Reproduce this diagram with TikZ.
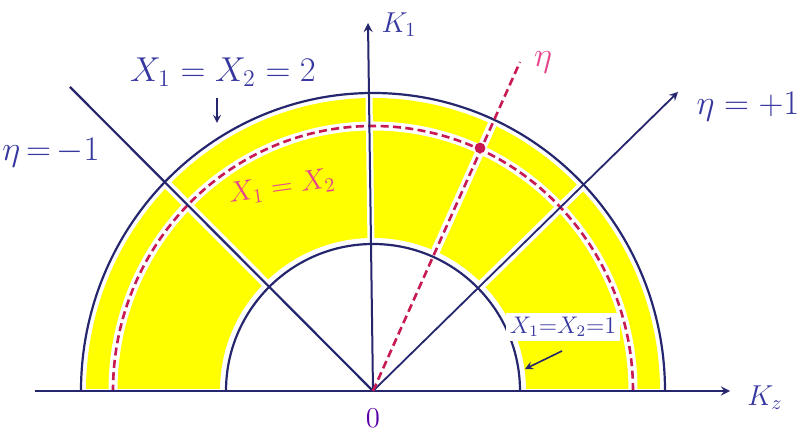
\documentclass[tikz,border=0pt]{standalone}
\usepackage{amsmath}
\definecolor{azulLinha}{RGB}{38,38,110}
\definecolor{azulTexto}{RGB}{55,55,160}
\definecolor{vermelho}{RGB}{200,25,80}
\definecolor{rosa}{RGB}{232,70,140}
\definecolor{amarelo}{RGB}{255,255,0}
\begin{document}
\begin{tikzpicture}[
    x=0.5pt,
    y=0.5pt,
    every node/.style={font=\Large, text=azulTexto},
    linha/.style={draw=azulLinha, line width=1.1pt},
    seta/.style={->, >=stealth, draw=azulLinha, line width=1.0pt},
    tracejado/.style={draw=vermelho, line width=1.3pt, dash pattern=on 4pt off 2.2pt},
    faixa/.style={draw=white, line width=4.5pt},
    ponto/.style={circle, fill=vermelho, inner sep=1.9pt},
    rotulo/.style={text=azulTexto, inner sep=1pt},
    rotuloRosa/.style={text=rosa, inner sep=1pt}
]

% Moldura:
% mesma proporção da figura de referência, origem no ponto O.
\useasboundingbox (-373,-51) rectangle (428,391);

\coordinate (O) at (0,0);
\coordinate (eixoZ) at (357,0);
\coordinate (eixoZini) at (-338,0);
\coordinate (eixoUm) at (-5,368);
\coordinate (etaMenos) at (-303,304);
\coordinate (etaMais) at (305,299);
\coordinate (etaLivre) at (147,329);

% Região amarela:
% coroa entre as duas semicircunferências, acima do eixo horizontal.
\begin{scope}
    \clip (-300,2) rectangle (300,310);
    \fill[amarelo, even odd rule] (0,0) ellipse [x radius=287, y radius=293]
        (0,0) circle [radius=150];
\end{scope}

% Faixas brancas:
% falhas da pintura ao longo das linhas que cortam a coroa.
\draw[faixa] (260,0) arc [start angle=0, end angle=180, x radius=260, y radius=265];
\draw[faixa] (O) -- (etaLivre);
\draw[faixa] (O) -- (etaMais);
\draw[faixa] (O) -- (etaMenos);
\draw[faixa, line width=3.5pt] (O) -- (eixoUm);
\draw[faixa, line width=3pt] (150,0) arc [start angle=0, end angle=180, radius=150];

% Semicircunferências:
% externa (x1 = x2 = 2), interna (x1 = x2 = 1) e tracejada (x1 = x2).
\draw[linha] (292,0) arc [start angle=0, end angle=180, x radius=292, y radius=298];
\draw[linha] (147,0) arc [start angle=0, end angle=180, radius=147];
\draw[tracejado] (260,0) arc [start angle=0, end angle=180, x radius=260, y radius=265];

% Eixos:
\draw[seta] (eixoZini) -- (eixoZ);
\draw[seta] (O) -- (eixoUm);

% Retas de eta constante:
\draw[linha] (O) -- (etaMenos);
\draw[seta, line width=0.9pt] (O) -- (etaMais);
\draw[tracejado] (O) -- (etaLivre);
\node[ponto] (cruza) at (107,243) {};

% Rótulos dos eixos e da origem:
\node[rotulo] (rotK1) at (26,366) {$K_1$};
\node[rotulo] (rotKz) at (392,-7) {$K_z$};
\node[rotulo, text=violet!70!blue] (rotO) at (0,-27) {$0$};

% Rótulos das retas:
\node[rotulo, font=\LARGE] (rotMenos) at (-322,238) {$\eta\,{=}\,{-}1$};
\node[rotulo, font=\LARGE] (rotMais) at (375,284) {$\eta = +1$};
\node[rotuloRosa, font=\LARGE] (rotEta) at (170,329) {$\eta$};

% Rótulos das semicircunferências:
% cada um com a sua pequena seta apontando para a curva.
\node[rotulo, font=\LARGE] (rotDois) at (-150,319) {$X_1 = X_2 = 2$};
\coordinate (setaDoisIni) at (-156,293);
\coordinate (setaDoisFim) at (-156,268);
\draw[seta, line width=0.8pt] (setaDoisIni) -- (setaDoisFim);

\node[rotuloRosa, rotate=8] (rotIgual) at (-91,204) {$X_1 = X_2$};

\node[rotulo, font=\large, fill=white, inner sep=2pt] (rotUm) at (190,64) {$X_1{=}X_2{=}1$};
\coordinate (setaUmIni) at (189,40);
\coordinate (setaUmFim) at (152,22);
\draw[seta, line width=0.8pt] (setaUmIni) -- (setaUmFim);

\end{tikzpicture}
\end{document}
